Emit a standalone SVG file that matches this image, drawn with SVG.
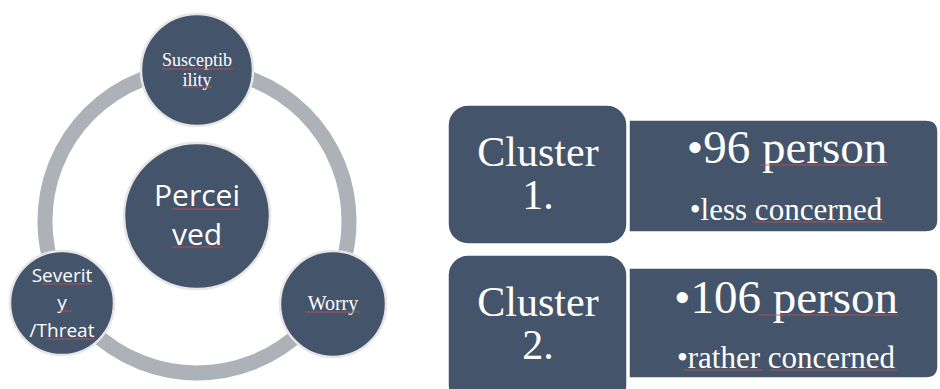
<svg xmlns="http://www.w3.org/2000/svg" width="940" height="389" viewBox="0 0 940 389">
<style>
.node{fill:#44546a;stroke:#e6e6e6;stroke-width:2.5}
.box{fill:#44546a;stroke:#ffffff;stroke-width:1.5}
.ring{fill:none;stroke:#adb1b8;stroke-width:15}
.serif{font-family:"Liberation Serif","Times New Roman",serif;fill:#ffffff;text-anchor:middle}
.sans{font-family:"Open Sans","Noto Sans","Liberation Sans",sans-serif;fill:#ffffff;text-anchor:middle}
.sq{stroke:#c0504d;stroke-width:1;fill:none;opacity:0.85}
</style>
<rect width="940" height="389" fill="#ffffff"/>
<g id="connectors">
<circle class="ring" cx="197" cy="221" r="152"/>
</g>
<g id="perceived">
<circle class="node" cx="197" cy="216" r="73"/>
<text class="sans" x="197" y="206" font-size="30">Percei</text>
<text class="sans" x="197" y="245" font-size="30">ved</text>
</g>
<g id="susceptibility">
<circle class="node" cx="197" cy="70" r="56"/>
<text class="serif" x="197" y="66" font-size="18">Susceptib</text>
<text class="serif" x="197" y="86" font-size="18">ility</text>
</g>
<g id="severity">
<circle class="node" cx="62" cy="303" r="52"/>
<text class="sans" x="62" y="282" font-size="19">Severit</text>
<text class="sans" x="62" y="309" font-size="19">y</text>
<text class="sans" x="62" y="337" font-size="19">/Threat</text>
</g>
<g id="worry">
<circle class="node" cx="333" cy="304" r="53"/>
<text class="serif" x="333" y="310" font-size="20">Worry</text>
</g>
<g id="cluster1">
<path class="box" d="M629,120 H926 Q938,120 938,132 V220 Q938,232 926,232 H629 Z"/>
<rect class="box" x="448" y="105" width="179" height="139" rx="20"/>
<text class="serif" x="538" y="166" font-size="42">Cluster</text>
<text class="serif" x="538" y="209" font-size="42">1.</text>
<text class="serif" x="787" y="163" font-size="47">•96 person</text>
<text class="serif" x="786" y="220" font-size="31">•less concerned</text>
</g>
<g id="cluster2">
<path class="box" d="M629,268 H926 Q938,268 938,280 V366 Q938,378 926,378 H629 Z"/>
<rect class="box" x="448" y="255" width="179" height="150" rx="20"/>
<text class="serif" x="538" y="316" font-size="42">Cluster</text>
<text class="serif" x="538" y="359" font-size="42">2.</text>
<text class="serif" x="786" y="313" font-size="47">•106 person</text>
<text class="serif" x="786" y="368" font-size="31">•rather concerned</text>
</g>
<g id="squiggles">
<path class="sq" d="M162,69 H233 M183,87 H212 M172,209 H240 M172,247 H223 M42,284 H92 M58,311 H72 M48,339 H95 M305,312 H360 M760,165 H888 M752,222 H885 M758,315 H898 M684,370 H763 M770,370 H897"/>
</g>
</svg>
